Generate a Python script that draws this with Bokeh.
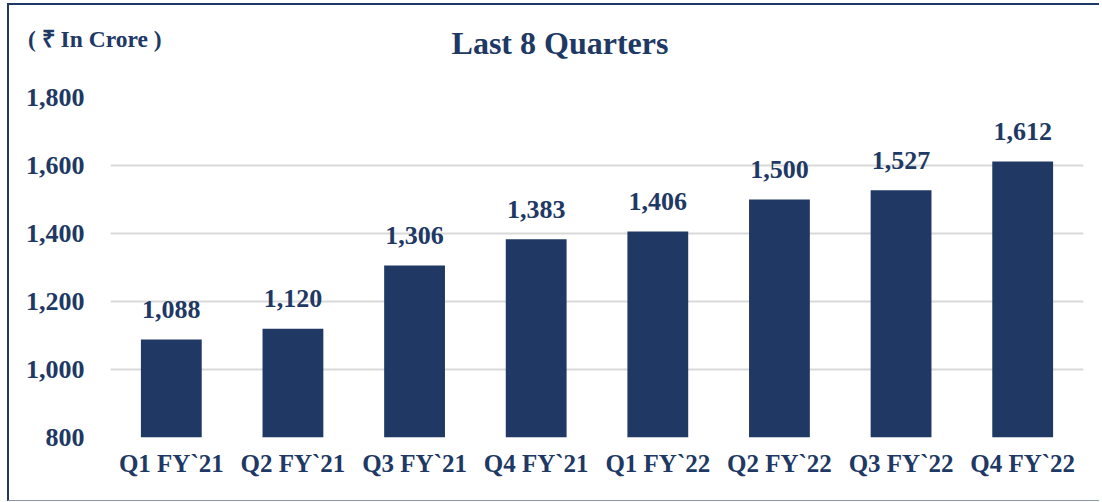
from bokeh.plotting import figure
from bokeh.layouts import column
from bokeh.models import ColumnDataSource, FixedTicker, NumeralTickFormatter, Div
from bokeh.embed import file_html
from bokeh.resources import INLINE

quarters = ["Q1 FY`21", "Q2 FY`21", "Q3 FY`21", "Q4 FY`21",
            "Q1 FY`22", "Q2 FY`22", "Q3 FY`22", "Q4 FY`22"]
values = [1088, 1120, 1306, 1383, 1406, 1500, 1527, 1612]
value_labels = ["1,088", "1,120", "1,306", "1,383", "1,406", "1,500", "1,527", "1,612"]
y_ticks = [800, 1000, 1200, 1400, 1600, 1800]
title_text = "Last 8 Quarters"
unit_text = "( ₹ In Crore )"

NAVY = "#203864"
FONT = "Liberation Serif"

src = ColumnDataSource(dict(q=quarters, v=values, lab=value_labels))

header = Div(
    text=(f'<div style="position:relative;width:1090px;height:60px;'
          f'font-family:\'{FONT}\';font-weight:bold;color:{NAVY};line-height:1;">'
          f'<span style="position:absolute;left:19px;top:23px;font-size:23.5px;'
          f'white-space:nowrap;">{unit_text}</span>'
          f'<span style="position:absolute;left:251px;top:22px;width:600px;'
          f'text-align:center;font-size:32px;white-space:nowrap;">{title_text}</span>'
          f'</div>'),
    width=1090, height=60, margin=0)

p = figure(x_range=quarters, y_range=(800, 1800), width=1090, height=435,
           output_backend="svg", toolbar_location=None,
           min_border_left=101, min_border_right=16,
           min_border_top=32, min_border_bottom=63, margin=0)
p.x_range.range_padding = 0
p.outline_line_color = None
p.background_fill_color = "white"
p.border_fill_color = "white"

p.vbar(x="q", top="v", bottom=800, width=0.5, source=src,
       fill_color=NAVY, line_color=None)

p.text(x="q", y="v", text="lab", source=src, text_align="center",
       text_baseline="alphabetic", y_offset=-30,
       text_font={"value": FONT}, text_font_style="bold",
       text_font_size="26px", text_color=NAVY)

p.xgrid.grid_line_color = None
p.ygrid.grid_line_color = "#d9d9d9"
p.ygrid.grid_line_width = 2
p.yaxis.ticker = FixedTicker(ticks=y_ticks)
p.yaxis.formatter = NumeralTickFormatter(format="0,0")

for ax in (p.xaxis[0], p.yaxis[0]):
    ax.axis_line_color = None
    ax.major_tick_line_color = None
    ax.minor_tick_line_color = None
    ax.major_label_text_font = FONT
    ax.major_label_text_font_style = "bold"
    ax.major_label_text_color = NAVY
p.yaxis.major_label_standoff = 20
p.yaxis.major_label_text_font_size = "26px"
p.xaxis.major_label_text_font_size = "25px"
p.xaxis.major_label_standoff = 6

layout = column(header, p, spacing=0, margin=(3, 0, 0, 7))
layout.styles = {"border-top": "2px solid #203864",
                 "border-left": "2px solid #203864",
                 "border-bottom": "1px solid #8c96a8"}

open("out.html", "w").write(file_html(layout, INLINE))
